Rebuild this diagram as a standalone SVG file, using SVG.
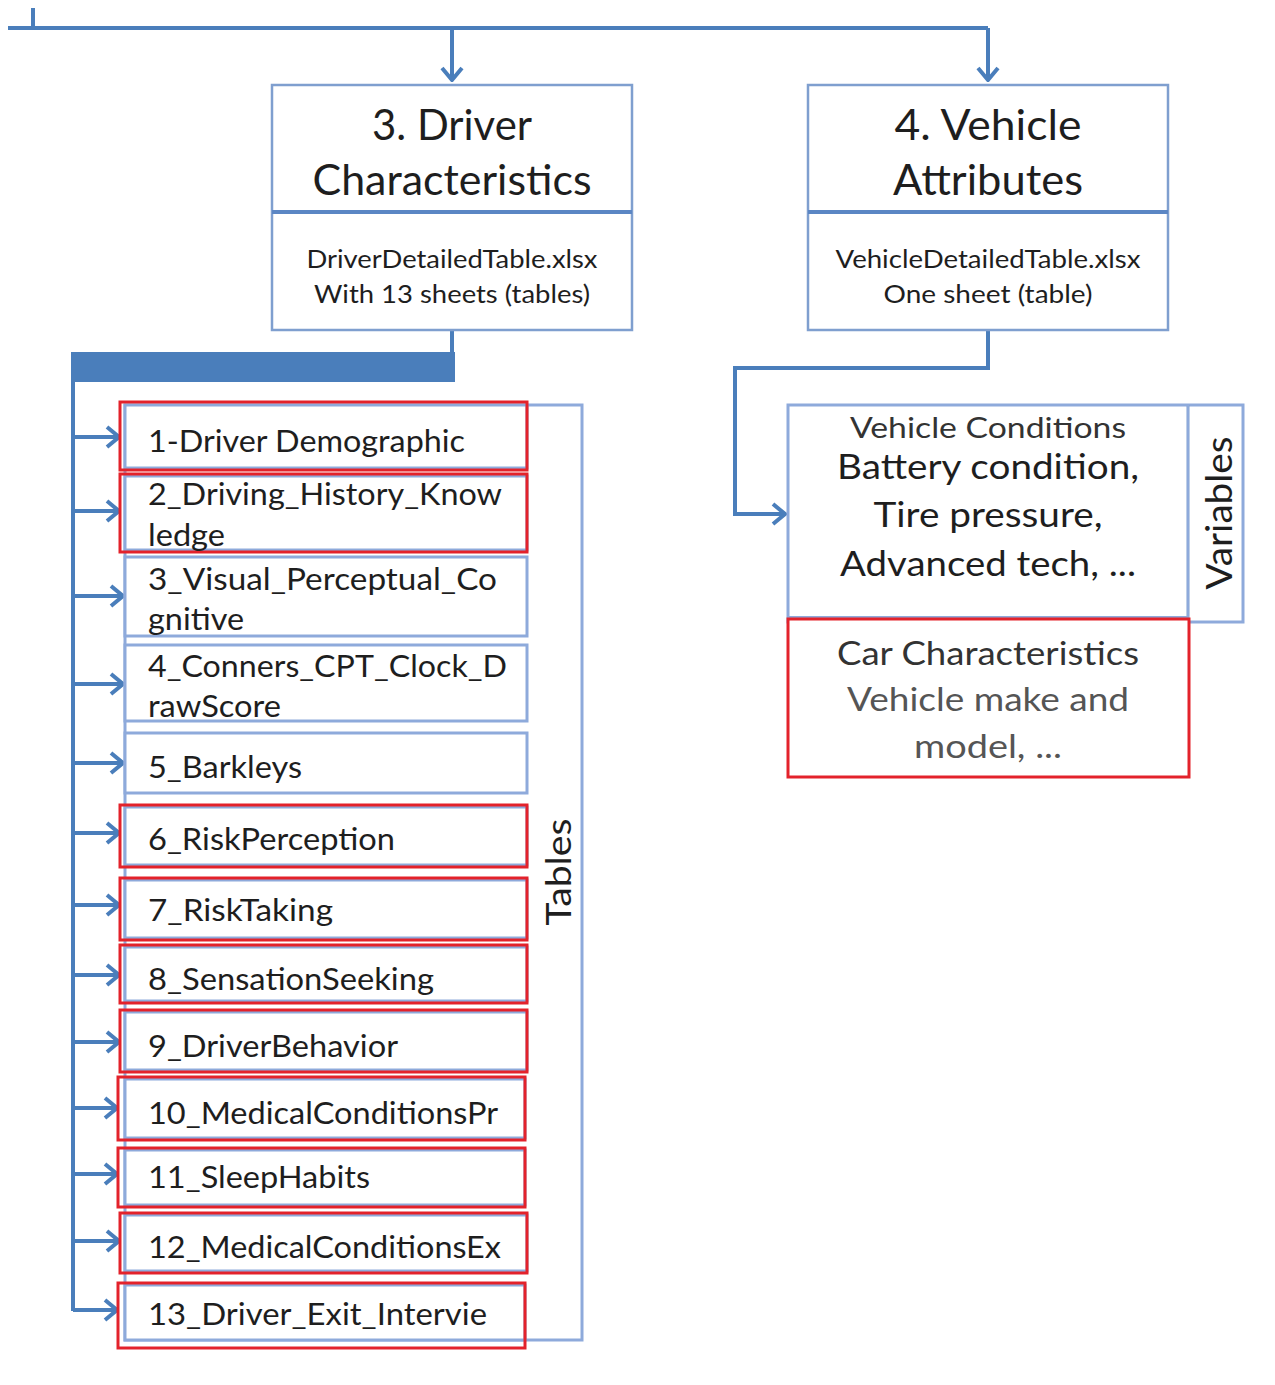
<svg xmlns="http://www.w3.org/2000/svg" width="1275" height="1385" viewBox="0 0 1275 1385">
<style>
  .t{font-family:Lato,"Open Sans","Liberation Sans",sans-serif;fill:#1e1e1e}
  .row{font-size:31px}
  .conn{fill:none;stroke:#4a7ebb;stroke-width:4}
  .bx{fill:#fff;stroke:#7f9fcf;stroke-width:2.5}
  .rb{fill:#fff;stroke:#8eaadb;stroke-width:3}
  .red{fill:none;stroke:#e3222b;stroke-width:3}
  .thin{fill:none;stroke:#8eaadb;stroke-width:3}
</style>
<defs>
  <marker id="ah" viewBox="0 0 16 24" refX="14" refY="12" markerWidth="16" markerHeight="24" markerUnits="userSpaceOnUse" orient="auto">
    <path d="M2,2 L14,12 L2,22" fill="none" stroke="#4a7ebb" stroke-width="4"/>
  </marker>
</defs>
<rect width="1275" height="1385" fill="#fff"/>

<g id="connectors">
  <path class="conn" d="M33,8 V28 M8,28 H988"/>
  <path class="conn" d="M452,28 V80" marker-end="url(#ah)"/>
  <path class="conn" d="M988,28 V80" marker-end="url(#ah)"/>
  <path class="conn" d="M452,330 V368"/>
  <rect x="71" y="352" width="384" height="30" fill="#4a7ebb"/>
  <path class="conn" d="M73,355 V1311"/>
  <path class="conn" d="M73,437 H119" marker-end="url(#ah)"/>
  <path class="conn" d="M73,511 H119" marker-end="url(#ah)"/>
  <path class="conn" d="M73,596 H123" marker-end="url(#ah)"/>
  <path class="conn" d="M73,684 H123" marker-end="url(#ah)"/>
  <path class="conn" d="M73,763 H123" marker-end="url(#ah)"/>
  <path class="conn" d="M73,833 H119" marker-end="url(#ah)"/>
  <path class="conn" d="M73,905 H119" marker-end="url(#ah)"/>
  <path class="conn" d="M73,975 H119" marker-end="url(#ah)"/>
  <path class="conn" d="M73,1042 H119" marker-end="url(#ah)"/>
  <path class="conn" d="M73,1108 H117" marker-end="url(#ah)"/>
  <path class="conn" d="M73,1174 H117" marker-end="url(#ah)"/>
  <path class="conn" d="M73,1241 H119" marker-end="url(#ah)"/>
  <path class="conn" d="M73,1310 H117" marker-end="url(#ah)"/>
  <path class="conn" d="M988,330 V368 H735 V514 H785" marker-end="url(#ah)"/>
</g>

<g id="node-driver">
  <rect class="bx" x="272" y="85" width="360" height="245"/>
  <line x1="272" y1="212" x2="632" y2="212" stroke="#5b86c4" stroke-width="4"/>
  <text class="t" x="452" y="140" font-size="42" text-anchor="middle" textLength="160" lengthAdjust="spacingAndGlyphs">3. Driver</text>
  <text class="t" x="452" y="195" font-size="42" text-anchor="middle" textLength="279" lengthAdjust="spacingAndGlyphs">Characteristics</text>
  <text class="t" x="452" y="268" font-size="25" text-anchor="middle" textLength="291" lengthAdjust="spacingAndGlyphs">DriverDetailedTable.xlsx</text>
  <text class="t" x="452" y="303" font-size="25" text-anchor="middle" textLength="276" lengthAdjust="spacingAndGlyphs">With 13 sheets (tables)</text>
</g>

<g id="node-vehicle">
  <rect class="bx" x="808" y="85" width="360" height="245"/>
  <line x1="808" y1="212" x2="1168" y2="212" stroke="#5b86c4" stroke-width="4"/>
  <text class="t" x="988" y="140" font-size="42" text-anchor="middle" textLength="187" lengthAdjust="spacingAndGlyphs">4. Vehicle</text>
  <text class="t" x="988" y="195" font-size="42" text-anchor="middle" textLength="190" lengthAdjust="spacingAndGlyphs">Attributes</text>
  <text class="t" x="988" y="268" font-size="25" text-anchor="middle" textLength="305" lengthAdjust="spacingAndGlyphs">VehicleDetailedTable.xlsx</text>
  <text class="t" x="988" y="303" font-size="25" text-anchor="middle" textLength="209" lengthAdjust="spacingAndGlyphs">One sheet (table)</text>
</g>

<g id="node-tables">
  <rect class="thin" x="125" y="405" width="457" height="935"/>
  <text class="t" font-size="34" text-anchor="middle" transform="translate(571,872) rotate(-90)" textLength="107" lengthAdjust="spacingAndGlyphs">Tables</text>
</g>

<g id="row-1">
  <rect class="rb" x="125" y="405" width="402" height="63"/>
  <rect class="red" x="120" y="402" width="407" height="68"/>
  <text class="t row" x="148" y="452" textLength="317" lengthAdjust="spacingAndGlyphs">1-Driver Demographic</text>
</g>
<g id="row-2">
  <rect class="rb" x="125" y="476" width="402" height="74"/>
  <rect class="red" x="120" y="474" width="407" height="78"/>
  <text class="t row" x="148" y="505" textLength="354" lengthAdjust="spacingAndGlyphs">2_Driving_History_Know</text>
  <text class="t row" x="148" y="546" textLength="77" lengthAdjust="spacingAndGlyphs">ledge</text>
</g>
<g id="row-3">
  <rect class="rb" x="125" y="557" width="402" height="79"/>
  <text class="t row" x="148" y="590" textLength="349" lengthAdjust="spacingAndGlyphs">3_Visual_Perceptual_Co</text>
  <text class="t row" x="148" y="630" textLength="96" lengthAdjust="spacingAndGlyphs">gnitive</text>
</g>
<g id="row-4">
  <rect class="rb" x="125" y="645" width="402" height="76"/>
  <text class="t row" x="148" y="677" textLength="359" lengthAdjust="spacingAndGlyphs">4_Conners_CPT_Clock_D</text>
  <text class="t row" x="148" y="717" textLength="133" lengthAdjust="spacingAndGlyphs">rawScore</text>
</g>
<g id="row-5">
  <rect class="rb" x="125" y="733" width="402" height="60"/>
  <text class="t row" x="148" y="778" textLength="154" lengthAdjust="spacingAndGlyphs">5_Barkleys</text>
</g>
<g id="row-6">
  <rect class="rb" x="125" y="807" width="402" height="58"/>
  <rect class="red" x="120" y="805" width="407" height="62"/>
  <text class="t row" x="148" y="850" textLength="247" lengthAdjust="spacingAndGlyphs">6_RiskPerception</text>
</g>
<g id="row-7">
  <rect class="rb" x="125" y="880" width="402" height="58"/>
  <rect class="red" x="120" y="878" width="407" height="62"/>
  <text class="t row" x="148" y="921" textLength="185" lengthAdjust="spacingAndGlyphs">7_RiskTaking</text>
</g>
<g id="row-8">
  <rect class="rb" x="125" y="947" width="402" height="54"/>
  <rect class="red" x="120" y="945" width="407" height="58"/>
  <text class="t row" x="148" y="990" textLength="286" lengthAdjust="spacingAndGlyphs">8_SensationSeeking</text>
</g>
<g id="row-9">
  <rect class="rb" x="125" y="1012" width="402" height="58"/>
  <rect class="red" x="120" y="1010" width="407" height="62"/>
  <text class="t row" x="148" y="1057" textLength="250" lengthAdjust="spacingAndGlyphs">9_DriverBehavior</text>
</g>
<g id="row-10">
  <rect class="rb" x="125" y="1079" width="400" height="59"/>
  <rect class="red" x="118" y="1077" width="407" height="63"/>
  <text class="t row" x="148" y="1124" textLength="350" lengthAdjust="spacingAndGlyphs">10_MedicalConditionsPr</text>
</g>
<g id="row-11">
  <rect class="rb" x="125" y="1150" width="400" height="55"/>
  <rect class="red" x="118" y="1148" width="407" height="59"/>
  <text class="t row" x="148" y="1188" textLength="222" lengthAdjust="spacingAndGlyphs">11_SleepHabits</text>
</g>
<g id="row-12">
  <rect class="rb" x="125" y="1215" width="402" height="56"/>
  <rect class="red" x="120" y="1213" width="407" height="60"/>
  <text class="t row" x="148" y="1258" textLength="353" lengthAdjust="spacingAndGlyphs">12_MedicalConditionsEx</text>
</g>
<g id="row-13">
  <rect class="rb" x="125" y="1285" width="400" height="55"/>
  <rect class="red" x="118" y="1283" width="407" height="65"/>
  <text class="t row" x="148" y="1325" textLength="339" lengthAdjust="spacingAndGlyphs">13_Driver_Exit_Intervie</text>
</g>

<g id="node-variables">
  <rect class="thin" x="788" y="405" width="455" height="217"/>
  <line x1="1188" y1="405" x2="1188" y2="618" stroke="#7f9fcf" stroke-width="3"/>
  <text class="t" font-size="36" text-anchor="middle" transform="translate(1232,513) rotate(-90)" textLength="153" lengthAdjust="spacingAndGlyphs">Variables</text>
</g>
<g id="node-vehicle-conditions">
  <rect x="788" y="405" width="400" height="212" fill="none" stroke="#8eaadb" stroke-width="2"/>
  <text class="t" x="988" y="438" font-size="29" text-anchor="middle" style="fill:#333" textLength="276" lengthAdjust="spacingAndGlyphs">Vehicle Conditions</text>
  <text class="t" x="988" y="479" font-size="35" text-anchor="middle" textLength="302" lengthAdjust="spacingAndGlyphs">Battery condition,</text>
  <text class="t" x="988" y="527" font-size="35" text-anchor="middle" textLength="229" lengthAdjust="spacingAndGlyphs">Tire pressure,</text>
  <text class="t" x="988" y="576" font-size="35" text-anchor="middle" textLength="296" lengthAdjust="spacingAndGlyphs">Advanced tech, ...</text>
</g>
<g id="node-car-characteristics">
  <rect x="788" y="619" width="401" height="158" fill="#fff" stroke="#e3222b" stroke-width="3"/>
  <text class="t" x="988" y="665" font-size="33" text-anchor="middle" style="fill:#333" textLength="302" lengthAdjust="spacingAndGlyphs">Car Characteristics</text>
  <text class="t" x="988" y="711" font-size="33" text-anchor="middle" style="fill:#555" textLength="282" lengthAdjust="spacingAndGlyphs">Vehicle make and</text>
  <text class="t" x="988" y="758" font-size="33" text-anchor="middle" style="fill:#555" textLength="148" lengthAdjust="spacingAndGlyphs">model, ...</text>
</g>
</svg>
